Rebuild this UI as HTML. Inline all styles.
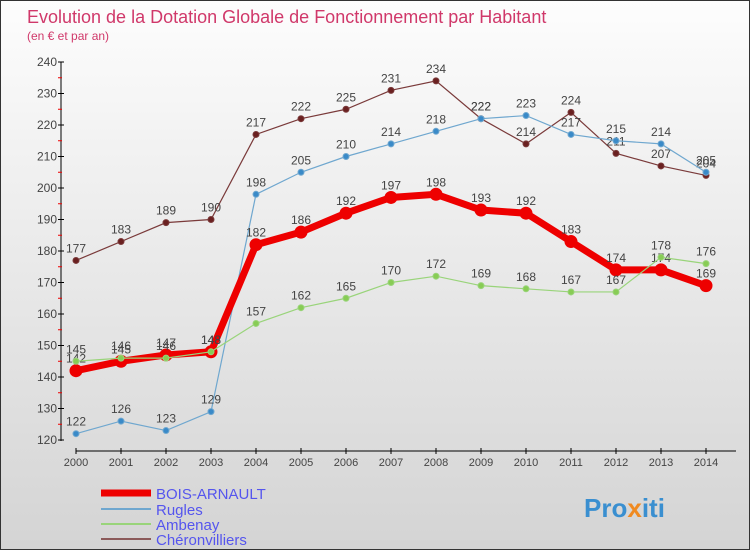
<!DOCTYPE html>
<html><head><meta charset="utf-8"><style>
body{margin:0;}
#c{width:750px;height:550px;position:relative;overflow:hidden;box-sizing:border-box;border:1px solid #333;background:linear-gradient(#fdfdfd,#d4d4d4);font-family:"Liberation Sans",sans-serif;}
</style></head><body>
<div id="c">
<svg id="s" width="750" height="550" style="position:absolute;left:0;top:0">
<text x="26" y="22" font-size="18" fill="#d0386a">Evolution de la Dotation Globale de Fonctionnement par Habitant</text>
<text x="26" y="39" font-size="12" fill="#d0386a">(en € et par an)</text>
<g id="axes"></g><g id="series"></g>
<g>
<line x1="100" y1="492" x2="150" y2="492" stroke="#e00" stroke-width="7"/>
<text x="155" y="498" font-size="15" fill="#5555ee">BOIS-ARNAULT</text>
<line x1="100" y1="508" x2="150" y2="508" stroke="#6fa7cf" stroke-width="2"/>
<text x="155" y="514" font-size="15" fill="#5555ee">Rugles</text>
<line x1="100" y1="523" x2="150" y2="523" stroke="#99d47a" stroke-width="2"/>
<text x="155" y="529" font-size="15" fill="#5555ee">Ambenay</text>
<line x1="100" y1="538" x2="150" y2="538" stroke="#8b5a5a" stroke-width="2"/>
<text x="155" y="544" font-size="15" fill="#5555ee">Chéronvilliers</text>
</g>
<text x="583" y="516" font-size="26" font-weight="bold" fill="#3a8fd0">Pro<tspan fill="#f08a20">x</tspan>iti</text>
</svg>
</div>
<script>
const years=[2000,2001,2002,2003,2004,2005,2006,2007,2008,2009,2010,2011,2012,2013,2014];
const yTicks=[120,130,140,150,160,170,180,190,200,210,220,230,240];
const boisArnault=[142,145,147,148,182,186,192,197,198,193,192,183,174,174,169];
const rugles=[122,126,123,129,198,205,210,214,218,222,223,217,215,214,205];
const ambenay=[145,146,146,148,157,162,165,170,172,169,168,167,167,178,176];
const cheronvilliers=[177,183,189,190,217,222,225,231,234,222,214,224,211,207,204];
const NS='http://www.w3.org/2000/svg';
const X=i=>75+i*45, Y=v=>439-(v-120)*(378/120);
function mk(t,a,p){const e=document.createElementNS(NS,t);for(const k in a)e.setAttribute(k,a[k]);p.appendChild(e);return e;}
const ax=document.getElementById('axes');
const ya=mk('line',{x1:60,y1:61,x2:60,y2:440,stroke:'#000'},ax);


yTicks.forEach(v=>{mk('line',{x1:57,x2:63,y1:Y(v),y2:Y(v),stroke:'#000'},ax);
if(v<240)mk('line',{x1:57,x2:61,y1:Y(v+5),y2:Y(v+5),stroke:'#e00'},ax);
const t=mk('text',{x:56,y:Y(v)+4,'font-size':12,fill:'#444','text-anchor':'end'},ax);t.textContent=v;

});
const xa=mk('line',{x1:75,y1:450,x2:735,y2:450,stroke:'#000'},ax);


years.forEach((y,i)=>{mk('line',{x1:X(i),x2:X(i),y1:447,y2:453,stroke:'#000'},ax);
const t=mk('text',{x:X(i),y:465,'font-size':11,fill:'#444','text-anchor':'middle'},ax);t.textContent=y;

});
const sg=document.getElementById('series');
function draw(d,name,col,w,r,fill){
const g=mk('g',{},sg);


mk('polyline',{points:d.map((v,i)=>X(i)+','+Y(v)).join(' '),fill:'none',stroke:col,'stroke-width':w},g);
d.forEach((v,i)=>{const c=mk('circle',{cx:X(i),cy:Y(v),r:r,fill:fill,stroke:col},g);


const t=mk('text',{x:X(i),y:Y(v)-8,'font-size':12,fill:'#444','text-anchor':'middle'},g);t.textContent=v;

});}
draw(cheronvilliers,'cheronvilliers','#7a3a3a',1.2,3,'#6a2020');
draw(rugles,'rugles','#6fa7cf',1.2,3,'#3a8ac8');
draw(boisArnault,'bois-arnault','#e00',7,6,'#e00');
draw(ambenay,'ambenay','#99d47a',1.2,3,'#88cc55');
</script>
</body></html>
